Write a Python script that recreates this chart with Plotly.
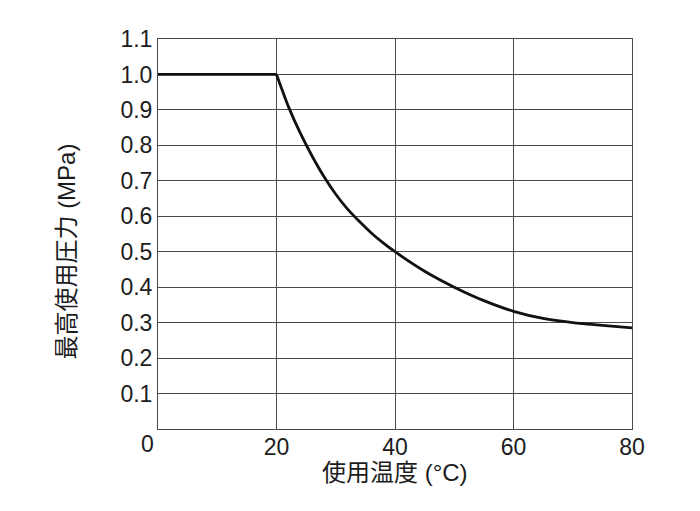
import plotly.graph_objects as go

# Data
flat_temperature_c = [0, 20]
flat_pressure_mpa = [1.0, 1.0]
temperature_c = [20, 22, 24, 26, 28, 30, 32, 34, 36, 38, 40, 45, 50, 55, 60, 65, 70, 75, 80]
max_pressure_mpa = [1.0, 0.91, 0.835, 0.77, 0.712, 0.662, 0.62, 0.585, 0.553, 0.525, 0.50,
                    0.445, 0.40, 0.362, 0.332, 0.312, 0.300, 0.292, 0.285]

x_ticks = [0, 20, 40, 60, 80]
x_tick_labels = ["0", "20", "40", "60", "80"]
y_ticks = [0.1, 0.2, 0.3, 0.4, 0.5, 0.6, 0.7, 0.8, 0.9, 1.0, 1.1]
y_tick_labels = ["0.1", "0.2", "0.3", "0.4", "0.5", "0.6", "0.7", "0.8", "0.9", "1.0", "1.1"]

x_title = "使用温度 (°C)"
y_title = "最高使用圧力 (MPa)"

font_family = "Liberation Sans, Arial, Noto Sans CJK JP, sans-serif"
text_color = "#1c1c1c"
grid_color = "#4a4a4a"
tick_size = 23
title_size = 24

fig = go.Figure()
fig.add_trace(go.Scatter(
    x=flat_temperature_c, y=flat_pressure_mpa, mode="lines",
    line=dict(color="#111111", width=2.8),
    showlegend=False, hoverinfo="skip",
))
fig.add_trace(go.Scatter(
    x=temperature_c, y=max_pressure_mpa, mode="lines",
    line=dict(color="#111111", width=2.8, shape="spline", smoothing=0.6),
    showlegend=False, hoverinfo="skip",
))

fig.update_layout(
    width=700, height=511,
    margin=dict(l=150, r=76, t=31, b=90),
    paper_bgcolor="white", plot_bgcolor="white",
    font=dict(family=font_family, size=tick_size, color=text_color),
    showlegend=False,
)

# "0" label sits left of the corner, as in the reference
fig.add_annotation(
    x=x_ticks[0], y=0, xref="x", yref="y", text=x_tick_labels[0],
    showarrow=False, xanchor="center", yanchor="middle",
    xshift=-11, yshift=-15, font=dict(size=tick_size, color=text_color),
)
# axis titles
fig.add_annotation(
    x=0.5, y=-0.111, xref="paper", yref="paper", text=x_title,
    showarrow=False, xanchor="center", yanchor="middle",
    font=dict(size=title_size, color=text_color),
)
fig.add_annotation(
    x=-0.192, y=0.455, xref="paper", yref="paper", text=y_title,
    showarrow=False, xanchor="center", yanchor="middle", textangle=-90,
    font=dict(size=title_size, color=text_color),
)

fig.update_xaxes(
    range=[0, 80], tickvals=x_ticks[1:], ticktext=x_tick_labels[1:],
    showgrid=True, gridcolor=grid_color, gridwidth=1,
    showline=True, linecolor=grid_color, linewidth=1, mirror=True,
    ticks="", ticklen=0, zeroline=False, ticklabelstandoff=-3,
    tickfont=dict(size=tick_size, color=text_color),
)
fig.update_yaxes(
    range=[0, 1.1], tickvals=y_ticks, ticktext=y_tick_labels,
    showgrid=True, gridcolor=grid_color, gridwidth=1,
    showline=True, linecolor=grid_color, linewidth=1, mirror=True,
    ticks="", ticklen=0, zeroline=False,
    tickfont=dict(size=tick_size, color=text_color),
)

fig.write_html("out.html")
